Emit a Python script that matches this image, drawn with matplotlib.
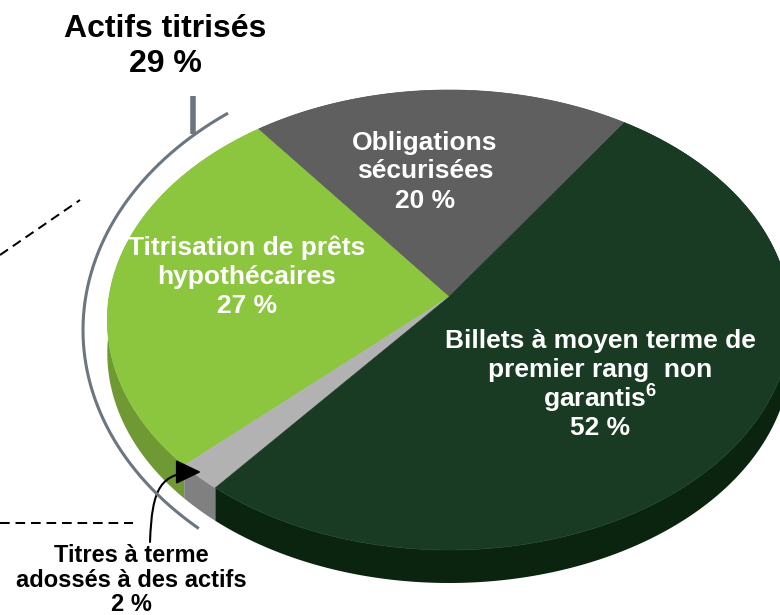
import numpy as np
import matplotlib
matplotlib.use('Agg')
import matplotlib.pyplot as plt
from matplotlib.patches import FancyArrowPatch
from matplotlib.path import Path

plt.rcParams['font.family'] = ['Liberation Sans', 'DejaVu Sans']
plt.rcParams['font.weight'] = 'bold'
plt.rcParams['mathtext.fontset'] = 'custom'
plt.rcParams['mathtext.bf'] = 'Liberation Sans:bold'
plt.rcParams['mathtext.rm'] = 'Liberation Sans:bold'

# slices, counterclockwise from the top right (as printed, they add up to 101)
categories = ['Obligations sécurisées', 'Titrisation de prêts hypothécaires',
              'Titres à terme adossés à des actifs', 'Billets à moyen terme']
values = np.array([20, 27, 2, 52])
top_colors = ['#5f5f5f', '#8cc63f', '#b2b2b2', '#193b23']
side_colors = ['#3f3f3f', '#6f9a33', '#808080', '#0a2410']

# perspective pie, in pixels of the picture
cx, cy = 449, 297
rx, ry = 340, 227.7
tilt = 0.1
depth = 33
start = 56.


def persp(t, r=1.0):
    u = r * np.cos(t)
    v = r * np.sin(t)
    w = 1 + tilt * v
    return cx + rx * u / w, cy - ry * v / w


def block(x, baselines, lines, size, color):
    for y, line in zip(baselines, lines):
        ax.text(x, y, line, ha='center', va='baseline', fontsize=size, color=color)


fig = plt.figure(figsize=(7.8, 6.15), dpi=100)
ax = fig.add_axes([0, 0, 1, 1])
ax.set_xlim(0, 780)
ax.set_ylim(615, 0)
ax.axis('off')

edges = start + 360. * np.concatenate(([0], np.cumsum(values))) / values.sum()

# side band first, the top faces go over it
for a0, a1, col in zip(edges[:-1], edges[1:], side_colors):
    t = np.radians(np.linspace(a0, a1, 200))
    x, y = persp(t)
    ax.fill(np.r_[x, x[::-1]], np.r_[y, y[::-1] + depth], color=col, lw=0)

for a0, a1, col in zip(edges[:-1], edges[1:], top_colors):
    t = np.radians(np.linspace(a0, a1, 200))
    x, y = persp(t)
    ax.fill(np.r_[cx, x], np.r_[cy, y], color=col, lw=0.5, ec=col)

# bracket round the securitised part
grey = '#6b7680'
t = np.radians(np.linspace(127.4, 226.6, 200))
ax.plot(449 + 366 * np.cos(t), 330 - 272 * np.sin(t), color=grey, lw=2.2)
ax.plot([192.5, 192.5], [96, 134], color=grey, lw=4, solid_capstyle='butt')

# dashed leaders
ax.plot([0, 80], [255, 200], color='black', lw=1.45, dashes=(4.8, 2.9))
ax.plot([0, 133], [523, 523], color='black', lw=1.45, dashes=(4.8, 2.9))

curve = Path([(150, 542), (152, 488), (160, 472), (201, 472)],
             [Path.MOVETO, Path.CURVE4, Path.CURVE4, Path.CURVE4])
arrow = FancyArrowPatch(path=curve, arrowstyle='-|>,head_length=0.52,head_width=0.25',
                        mutation_scale=22, color='black', lw=1.5)
arrow.set_mutation_scale(30)
ax.add_patch(arrow)

block(165, [37, 72], ['Actifs titrisés', '29 %'], 23, 'black')
block(425, [150, 178, 208], ['Obligations', 'sécurisées', '20 %'], 19, 'white')
block(247, [255, 284, 313], ['Titrisation de prêts', 'hypothécaires', '27 %'], 19, 'white')
block(600, [348, 377, 407, 435],
      ['Billets à moyen terme de', 'premier rang  non', r'garantis$^{\mathbf{6}}$', '52 %'], 19, 'white')
block(131, [562, 587, 611], ['Titres à terme', 'adossés à des actifs', '2 %'], 17, 'black')

fig.savefig('out.png', dpi=100)
